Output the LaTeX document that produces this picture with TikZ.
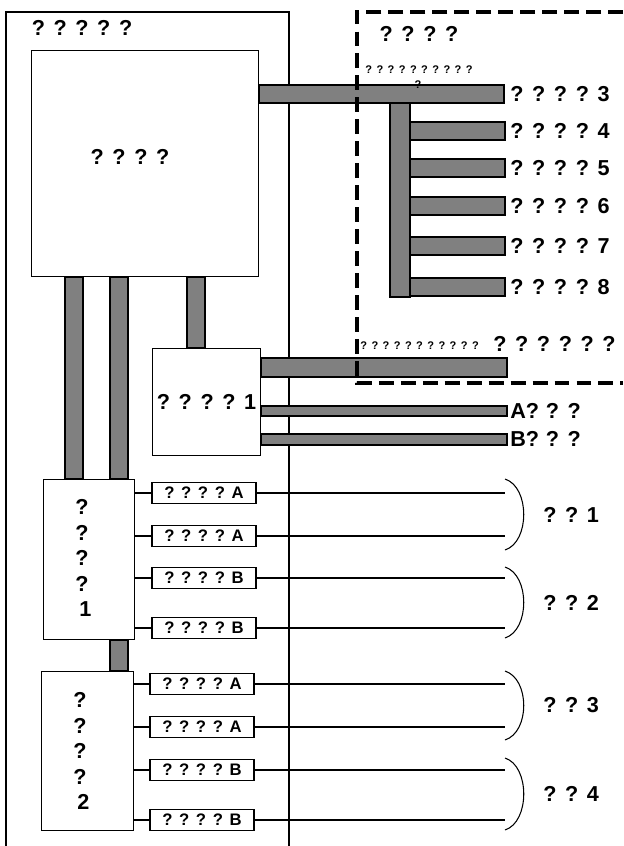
\documentclass[tikz,border=0pt]{standalone}
\usepackage{fontspec}
\setmainfont[WordSpace=1.1]{Liberation Sans}
\usetikzlibrary{positioning}

\def\px{0.02cm}

\begin{document}
\begin{tikzpicture}[
    x=0.02cm, y=-0.02cm,
    box/.style={
        draw,
        rectangle,
        line width=0.6pt,
        inner sep=0pt
    },
    tag/.style={
        draw,
        rectangle,
        line width=0.6pt,
        inner sep=0pt,
        minimum width=104*\px,
        minimum height=21*\px,
        font=\fontsize{9.5}{11}\selectfont\bfseries
    },
    bar/.style={draw, fill=gray, line width=0.6pt},
    big/.style={inner sep=0pt, font=\fontsize{12.3}{14.5}\selectfont\bfseries},
    tiny/.style={inner sep=0pt, font=\fontsize{6.3}{8}\selectfont\bfseries},
    wire/.style={line width=0.6pt},
    zone/.style={line width=1.8pt, dash pattern=on 8.5pt off 4pt}
]
\useasboundingbox (0,0) rectangle (623,846);

% outer frame
\draw[wire] (6,846) |- (289,12) -- (289,846);
\node[big] (sys) at (82,28) {? ? ? ? ?};

\node[box, anchor=north west, minimum width=227*\px, minimum height=226*\px] (cpu) at (31,50) {};
\node[big] (cpulbl) at (130,157) {? ? ? ?};

\node[box, big, anchor=north west, minimum width=108*\px, minimum height=107*\px] (io) at (152,348) {? ? ? ? 1};
\node[box, anchor=north west, minimum width=91*\px, minimum height=160*\px] (m1) at (43,479) {};
\node[big, align=center] (m1lbl) at (82,558) {?\\?\\?\\?\\~1};
\node[box, anchor=north west, minimum width=92*\px, minimum height=159*\px] (m2) at (41,671) {};
\node[big, align=center] (m2lbl) at (80,751) {?\\?\\?\\?\\~2};

% buses
\draw[bar] (cpu.south -| 65,0) rectangle (83,479);
\draw[bar] (cpu.south -| 110,0) rectangle (128,479);
\draw[bar] (cpu.south -| 187,0) rectangle (io.north -| 205,0);
\draw[bar] (m1.south -| 110,0) rectangle (m2.north -| 128,0);

\draw[bar] (390,103) rectangle (410,297);
\draw[bar] (cpu.east |- 0,85) rectangle (504,103);
\node[big, anchor=west] (o3) at (510,94) {? ? ? ? 3};
\foreach \y/\n in {122/4, 159/5, 197/6, 237/7, 278/8} {
    \draw[bar] (410,\y) rectangle (505,\y+18);
    \node[big, anchor=west] (o\n) at (510,\y+9) {? ? ? ? \n};
}

\draw[bar] (io.east |- 0,358) rectangle (507,377);
\draw[bar] (io.east |- 0,406) rectangle (507,416);
\draw[bar] (io.east |- 0,434) rectangle (507,445);
\node[tiny, anchor=west] (netlbl) at (360,346) {? ? ? ? ? ? ? ? ? ? ?};
\node[big, anchor=west] (net) at (493,344) {? ? ? ? ? ?};
\node[big, anchor=west] (pa) at (510,411) {A? ? ?};
\node[big, anchor=west] (pb) at (510,439) {B? ? ?};

% dashed area
\draw[zone] (623,12) -| (357,383) -- (623,383);
\node[big] (ext) at (419,34) {? ? ? ?};
\node[tiny] (extlbl) at (419,70) {? ? ? ? ? ? ? ? ? ?};
\node[tiny] (extq) at (418,85) {?};

% ports
\foreach \y/\t [count=\i] in {493/A, 536/A, 578/B, 628/B} {
    \node[tag] (ta\i) at (204,\y) {? ? ? ? \t};
    \coordinate (ea\i) at (505,\y);
    \draw[wire] (ta\i.west -| m1.east) -- (ta\i.west);
    \draw[wire] (ta\i.east) -- (ea\i);
}
\foreach \y/\t [count=\i] in {684/A, 727/A, 770/B, 820/B} {
    \node[tag] (tb\i) at (202,\y) {? ? ? ? \t};
    \coordinate (eb\i) at (505,\y);
    \draw[wire] (tb\i.west -| m2.east) -- (tb\i.west);
    \draw[wire] (tb\i.east) -- (eb\i);
}

% groups
\foreach \a/\b/\n in {479/550/1, 567/638/2, 671/740/3, 758/830/4} {
    \draw[wire] (505,\a) .. controls (530,\a+8) and (530,\b-8) .. (505,\b);
    \node[big, anchor=west] (g\n) at (543,{(\a+\b)/2}) {? ? \n};
}

\end{tikzpicture}
\end{document}
